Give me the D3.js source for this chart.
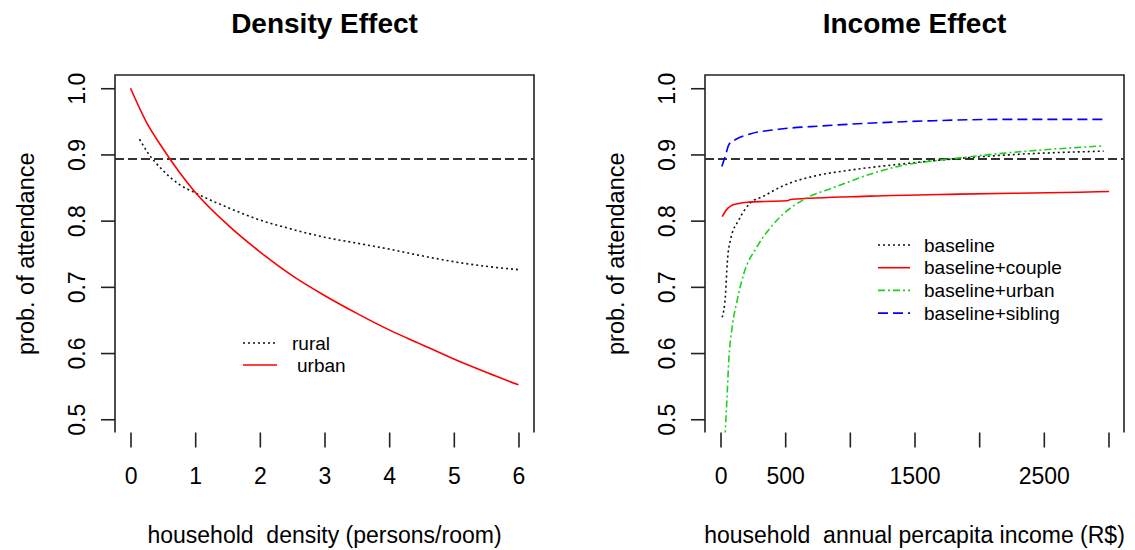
<!DOCTYPE html>
<html><head><meta charset="utf-8">
<script src="https://cdn.jsdelivr.net/npm/d3@7"></script>
<style>body{margin:0;background:#fff}svg{display:block}text{font-family:"Liberation Sans",Arial,sans-serif;fill:#000;white-space:pre}</style>
</head><body><svg id="c" width="1135" height="550"></svg>
<script>
// ---- data ----
const probTicks = [0.5, 0.6, 0.7, 0.8, 0.9, 1.0];
const densityTicks = [0, 1, 2, 3, 4, 5, 6];
const incomeTicks = [0, 500, 1000, 1500, 2000, 2500, 3000];
const incomeTickLabels = ["0", "500", "", "1500", "", "2500", ""];
const referenceProb = 0.893;

const urbanDensity = [0, 0.25, 0.5, 0.75, 1.0, 1.5, 2.0, 2.5, 3.0, 3.5, 4.0, 4.5, 5.0, 5.5, 6.0];
const urbanProb    = [1.000, 0.948, 0.909, 0.874, 0.843, 0.794, 0.753, 0.717, 0.687, 0.660, 0.635, 0.613, 0.591, 0.571, 0.552];
const ruralDensity = [0.14, 0.25, 0.5, 0.75, 1.0, 1.5, 2.0, 2.5, 3.0, 3.5, 4.0, 4.5, 5.0, 5.5, 6.0];
const ruralProb    = [0.923, 0.905, 0.876, 0.855, 0.842, 0.820, 0.801, 0.787, 0.775, 0.766, 0.757, 0.747, 0.738, 0.731, 0.726];

const baselineIncome = [13, 39, 52, 77, 141, 232, 333, 487, 719, 1028, 1376, 1786, 2196, 2962];
const baselineProb   = [0.654, 0.690, 0.736, 0.771, 0.801, 0.827, 0.837, 0.853, 0.867, 0.877, 0.885, 0.893, 0.899, 0.905];
const coupleIncome = [13, 40, 77, 141, 219, 335, 516, 541, 1160, 1840, 2776, 3005];
const coupleProb   = [0.806, 0.815, 0.822, 0.826, 0.828, 0.829, 0.830, 0.832, 0.837, 0.840, 0.843, 0.844];
const urbanIncome = [30, 39, 52, 64, 90, 129, 180, 284, 438, 644, 876, 1185, 1376, 1814, 2196, 2962];
const urbanIncProb = [0.45, 0.49, 0.540, 0.589, 0.639, 0.680, 0.720, 0.761, 0.801, 0.832, 0.850, 0.872, 0.882, 0.894, 0.902, 0.913];
const siblingIncome = [10, 38, 65, 120, 229, 448, 776, 1240, 1650, 2196, 2962];
const siblingProb   = [0.882, 0.898, 0.915, 0.923, 0.931, 0.938, 0.943, 0.948, 0.951, 0.953, 0.953];

// ---- drawing ----
const svg = d3.select("#c");
const plotTop = 75, plotBottom = 432.5;
const y = d3.scaleLinear().domain([0.48, 1.02]).range([plotBottom, plotTop]);

function panel(opts) {
  const g = svg.append("g");
  const x = d3.scaleLinear().domain(opts.xdom).range([opts.left, opts.right]);
  const cid = "clip" + opts.id;
  svg.append("defs").append("clipPath").attr("id", cid)
    .append("rect").attr("x", opts.left).attr("y", plotTop).attr("width", opts.right - opts.left).attr("height", plotBottom - plotTop);
  // box: top, left, right
  g.append("path").attr("d", `M${opts.left},${plotBottom}V${plotTop}H${opts.right}V${plotBottom}`)
    .attr("fill", "none").attr("stroke", "#222").attr("stroke-width", 1.6);
  // y axis ticks
  const ya = g.append("g").attr("transform", `translate(${opts.left},0)`)
    .call(d3.axisLeft(y).tickValues(probTicks).tickSize(14).tickFormat(d3.format(".1f")));
  ya.select(".domain").remove();
  ya.selectAll("line").attr("stroke", "#222").attr("stroke-width", 1.6);
  ya.selectAll("text").attr("font-size", 23).attr("fill", "#000")
    .attr("x", null).attr("dy", "0.35em").attr("text-anchor", "middle")
    .attr("transform", "translate(-38,0) rotate(-90)");
  // x axis ticks (no axis line)
  const xa = g.append("g").attr("transform", `translate(0,${plotBottom})`)
    .call(d3.axisBottom(x).tickValues(opts.xticks).tickSize(15).tickPadding(20).tickFormat(opts.xfmt));
  xa.select(".domain").remove();
  xa.selectAll("line").attr("stroke", "#222").attr("stroke-width", 1.6);
  xa.selectAll("text").attr("font-size", 23).attr("fill", "#000");
  // titles
  svg.append("text").attr("x", (opts.left + opts.right) / 2).attr("y", 33)
    .attr("text-anchor", "middle").attr("font-size", 28).attr("font-weight", "bold").text(opts.title);
  svg.append("text").attr("x", (opts.left + opts.right) / 2).attr("y", 543)
    .attr("text-anchor", "middle").attr("font-size", 23).text(opts.xlabel);
  svg.append("text").attr("transform", `translate(${opts.left - 89},${(plotTop + plotBottom) / 2}) rotate(-90)`)
    .attr("text-anchor", "middle").attr("dy", "0.35em").attr("font-size", 23.5).text("prob. of attendance");
  // reference dashed line
  g.append("line").attr("x1", opts.left).attr("x2", opts.right).attr("y1", y(referenceProb)).attr("y2", y(referenceProb))
    .attr("stroke", "#333").attr("stroke-width", 2).attr("stroke-dasharray", "9,4");
  const plot = g.append("g").attr("clip-path", `url(#${cid})`);
  opts.series.forEach(s => {
    const pts = s.xs.map((v, i) => [v, s.ys[i]]);
    plot.append("path").datum(pts)
      .attr("d", d3.line().curve(d3.curveMonotoneX).x(d => x(d[0])).y(d => y(d[1])))
      .attr("fill", "none").attr("stroke", s.color).attr("stroke-width", s.w || 1.6)
      .attr("stroke-dasharray", s.dash || null);
  });
  // legend
  const lg = g.append("g");
  opts.legend.items.forEach((s, i) => {
    const ly = opts.legend.y + i * opts.legend.dy;
    lg.append("line").attr("x1", opts.legend.x).attr("x2", opts.legend.x + opts.legend.len)
      .attr("y1", ly).attr("y2", ly).attr("stroke", s.color).attr("stroke-width", s.w || 1.6)
      .attr("stroke-dasharray", s.dash || null);
    lg.append("text").attr("x", opts.legend.tx + (s.tdx || 0)).attr("y", ly).attr("dy", "0.35em")
      .attr("font-size", 19).text(s.label);
  });
}

const rural = {xs: ruralDensity, ys: ruralProb, color: "#111", dash: "2,3", label: "rural"};
const urban = {xs: urbanDensity, ys: urbanProb, color: "#ff0000", label: "urban", tdx: 5};
panel({
  id: "a", left: 115, right: 534, xdom: [-0.24, 6.24], xticks: densityTicks, xfmt: d3.format("d"),
  title: "Density Effect", xlabel: "household  density (persons/room)",
  series: [rural, urban],
  legend: {x: 243, len: 34, tx: 292, y: 343, dy: 22, items: [rural, urban]}
});

const base = {xs: baselineIncome, ys: baselineProb, color: "#111", dash: "2,3", label: "baseline"};
const couple = {xs: coupleIncome, ys: coupleProb, color: "#ff0000", label: "baseline+couple"};
const urb = {xs: urbanIncome, ys: urbanIncProb, color: "#1ed01e", dash: "7,3,2,3", label: "baseline+urban"};
const sib = {xs: siblingIncome, ys: siblingProb, color: "#0000ff", dash: "10,5", label: "baseline+sibling"};
panel({
  id: "b", left: 705, right: 1124, xdom: [-120, 3120], xticks: incomeTicks,
  xfmt: (d, i) => incomeTickLabels[i],
  title: "Income Effect", xlabel: "household  annual percapita income (R$)",
  series: [base, couple, urb, sib],
  legend: {x: 878, len: 32, tx: 924, y: 245, dy: 22.7, items: [base, couple, urb, sib]}
});
</script></body></html>
